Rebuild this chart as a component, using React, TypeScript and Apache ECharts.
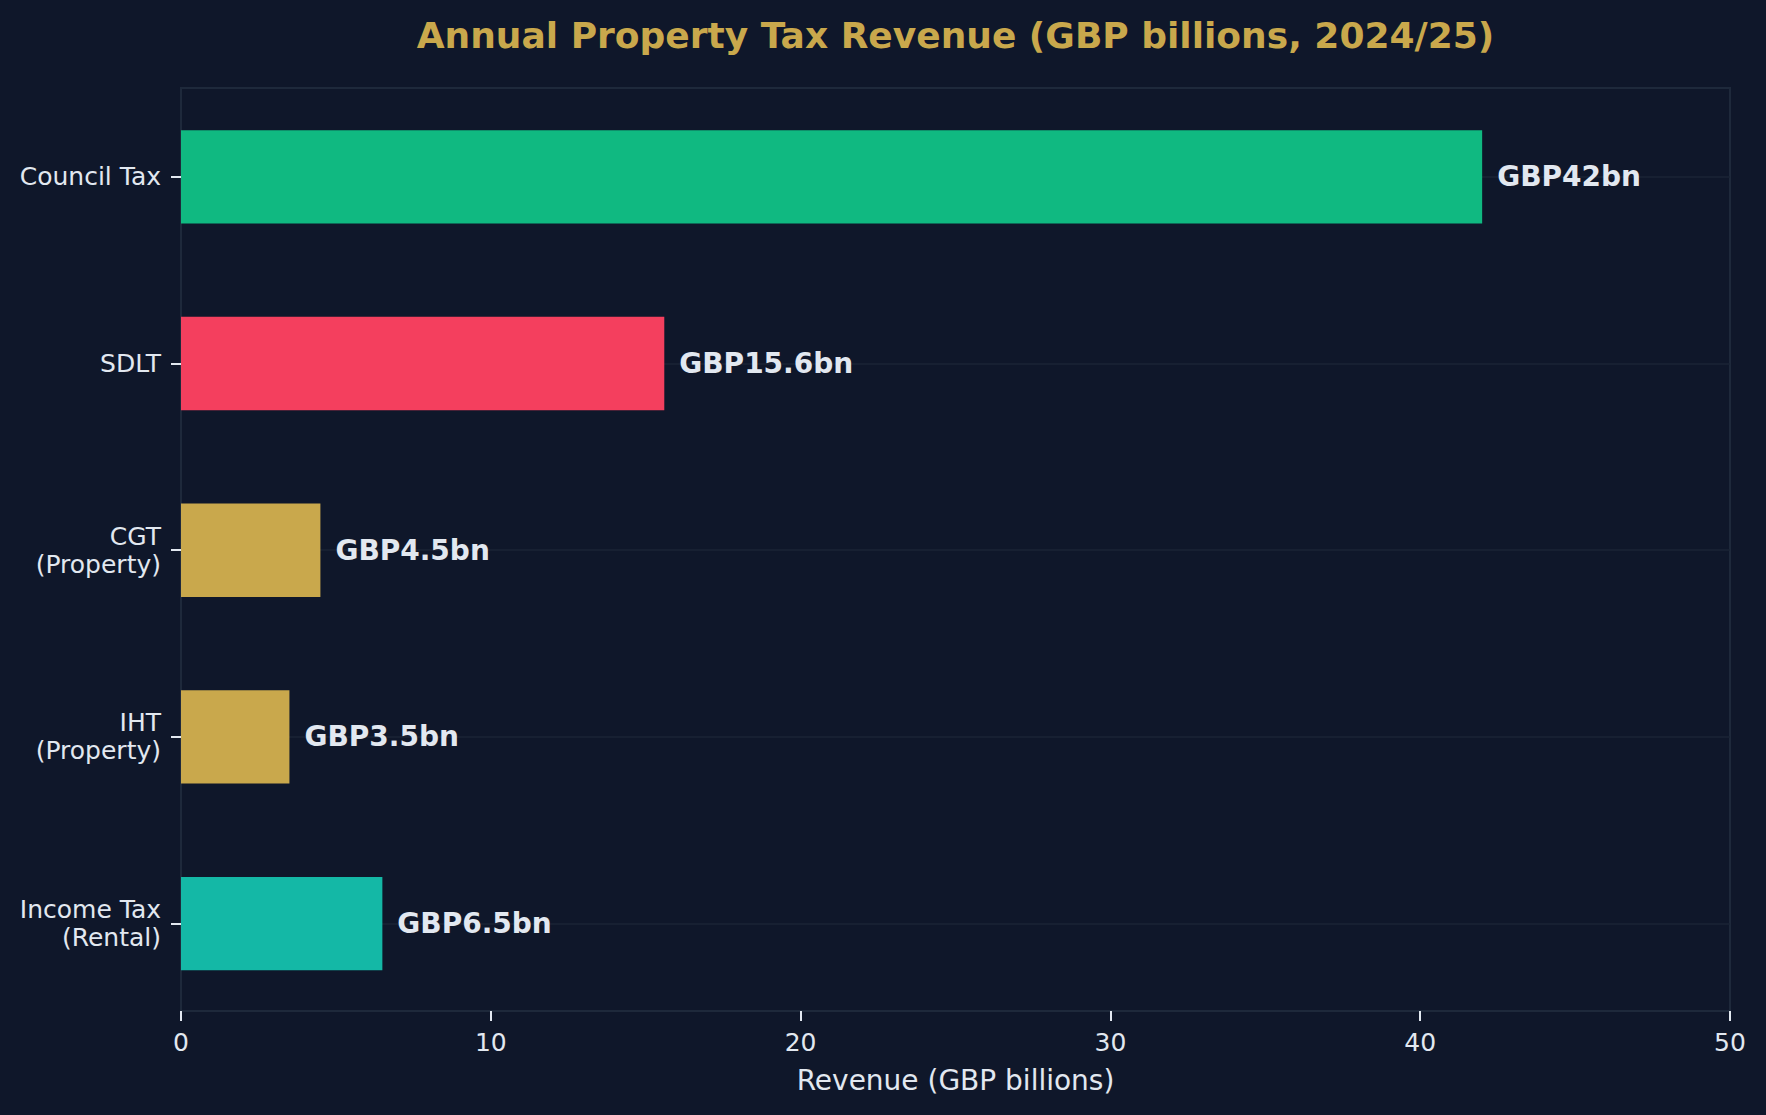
import React, { useEffect, useRef } from "react";
import * as echarts from "echarts";

const categories = ["Council Tax", "SDLT", "CGT\n(Property)", "IHT\n(Property)", "Income Tax\n(Rental)"];
const revenues = [42, 15.6, 4.5, 3.5, 6.5];
const barColors = ["#10B981", "#F43F5E", "#C9A84C", "#C9A84C", "#14B8A6"];
const xTicks = { min: 0, max: 50, interval: 10 };
const titleText = "Annual Property Tax Revenue (GBP billions, 2024/25)";
const xAxisName = "Revenue (GBP billions)";

const BG = "#0F172A";
const TEXT = "#E2E8F0";
const FONT = "DejaVu Sans";

export default function App() {
  const ref = useRef<HTMLDivElement>(null);
  useEffect(() => {
    document.body.style.margin = "0";
    document.body.style.background = BG;
    const chart = echarts.init(ref.current!, undefined, { renderer: "svg" });
    const plotLeft = 181;
    const plotWidth = 1549;
    const plotTop = 88;
    const plotHeight = 923;
    const rowStep = 186.7;
    const firstCenter = 176.8;
    chart.setOption({
      animation: false,
      backgroundColor: BG,
      textStyle: { fontFamily: FONT },
      title: {
        text: titleText,
        left: plotLeft + plotWidth / 2 - 5,
        textAlign: "center",
        top: 12,
        textStyle: { color: "#C9A84C", fontSize: 36, fontWeight: "bold", fontFamily: FONT },
      },
      grid: [
        { left: plotLeft, width: plotWidth, top: firstCenter - rowStep / 2, height: rowStep * 5, containLabel: false },
        { left: plotLeft, width: plotWidth, top: plotTop, height: plotHeight, show: true, borderColor: "#1E293B", borderWidth: 2, backgroundColor: "transparent" },
        { left: plotLeft, width: plotWidth, top: firstCenter, height: rowStep * 4 },
      ],
      xAxis: [
        { type: "value", gridIndex: 0, min: xTicks.min, max: xTicks.max, show: false },
        {
          type: "value",
          gridIndex: 1,
          min: xTicks.min,
          max: xTicks.max,
          interval: xTicks.interval,
          axisLine: { show: false },
          axisTick: { show: true, length: 10, lineStyle: { color: TEXT, width: 2 } },
          axisLabel: { color: TEXT, fontSize: 25, margin: 19, fontFamily: FONT },
          splitLine: { show: false },
          name: xAxisName,
          nameLocation: "middle",
          nameGap: 55,
          nameTextStyle: { color: TEXT, fontSize: 28, fontFamily: FONT },
        },
        { type: "value", gridIndex: 2, min: 0, max: 50, show: false },
      ],
      yAxis: [
        {
          type: "category",
          gridIndex: 0,
          data: categories,
          inverse: true,
          axisLine: { show: false },
          axisTick: { show: true, alignWithLabel: true, length: 10, lineStyle: { color: TEXT, width: 2 } },
          axisLabel: { color: TEXT, fontSize: 25, lineHeight: 28, margin: 20, align: "right", fontFamily: FONT, padding: [3, 0, 0, 0] },
          splitLine: { show: false },
        },
        { type: "value", gridIndex: 1, show: false },
        {
          type: "value",
          gridIndex: 2,
          min: 0,
          max: 4,
          interval: 1,
          inverse: true,
          axisLine: { show: false },
          axisTick: { show: false },
          axisLabel: { show: false },
          splitLine: { show: true, lineStyle: { color: "#1B2436", width: 1.5 } },
        },
      ],
      series: [
        {
          type: "bar",
          xAxisIndex: 0,
          yAxisIndex: 0,
          barWidth: "50%",
          z: 3,
          data: revenues.map((v, i) => ({ value: v, itemStyle: { color: barColors[i] } })),
          label: {
            show: true,
            position: "right",
            distance: 15,
            formatter: (p: any) => `GBP${p.value}bn`,
            color: TEXT,
            fontSize: 28,
            fontWeight: "bold",
            fontFamily: FONT,
          },
        },
      ],
    });
    return () => chart.dispose();
  }, []);
  return <div ref={ref} style={{ width: 1766, height: 1115, background: BG }} />;
}
